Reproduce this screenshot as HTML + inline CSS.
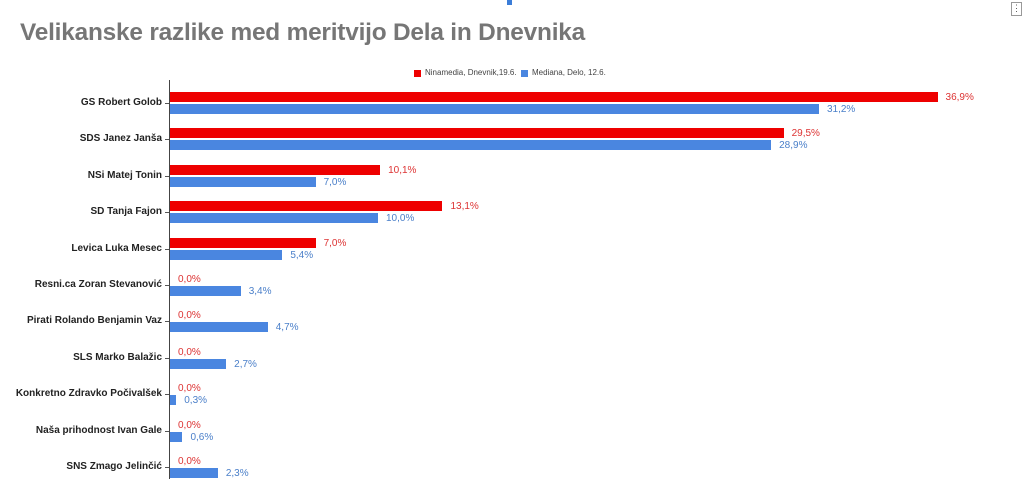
<!DOCTYPE html>
<html><head><meta charset="utf-8"><style>
body{margin:0;width:1024px;height:479px;background:#fff;position:relative;overflow:hidden;font-family:"Liberation Sans",Arial,sans-serif}
.a{position:absolute}
.t{left:20px;top:19px;font-size:24.4px;font-weight:bold;color:#767676;letter-spacing:-0.2px}
.lab{right:862px;font-size:10px;font-weight:bold;color:#222;white-space:nowrap;text-align:right}
.r{background:#ee0000;height:10px;left:170px}
.b{background:#4a86e0;height:10px;left:170px}
.vr{font-size:10px;color:#d33}
.vb{font-size:10px;color:#4a7fc9}
.tick{left:165px;width:4px;height:1px;background:#555}
</style></head><body>
<div class="a" style="left:507px;top:0;width:5px;height:5px;background:#3b7dd8"></div>
<div class="a" style="left:1011px;top:2px;width:9px;height:12px;border:1px solid #999;font-size:9px;line-height:11px;text-align:center;color:#555">⋮</div>
<div class="a t">Velikanske razlike med meritvijo Dela in Dnevnika</div>
<div class="a" style="left:414px;top:70px;width:7px;height:7px;background:#e00"></div>
<div class="a" style="left:425px;top:68px;font-size:8px;color:#444">Ninamedia, Dnevnik,19.6.</div>
<div class="a" style="left:521px;top:70px;width:7px;height:7px;background:#4a86e0"></div>
<div class="a" style="left:532px;top:68px;font-size:8px;color:#444">Mediana, Delo, 12.6.</div>
<div class="a" style="left:169px;top:80px;width:1px;height:399px;background:#444"></div>
<div id="c"></div>
<script>
var d=[["GS Robert Golob",36.9,31.2],["SDS Janez Janša",29.5,28.9],["NSi Matej Tonin",10.1,7.0],["SD Tanja Fajon",13.1,10.0],["Levica Luka Mesec",7.0,5.4],["Resni.ca Zoran Stevanović",0,3.4],["Pirati Rolando Benjamin Vaz",0,4.7],["SLS Marko Balažic",0,2.7],["Konkretno Zdravko Počivalšek",0,0.3],["Naša prihodnost Ivan Gale",0,0.6],["SNS Zmago Jelinčić",0,2.3]];
var h="",k=20.8;
d.forEach(function(e,i){var y=103+i*36.4;
function f(v){return v.toFixed(1).replace(".",",")+"%";}
h+='<div class="a lab" style="top:'+(y-6)+'px">'+e[0]+'</div>';
h+='<div class="a tick" style="top:'+y+'px"></div>';
var wr=e[1]*k,wb=e[2]*k;
if(wr>0)h+='<div class="a r" style="top:'+(y-11)+'px;width:'+wr+'px"></div>';
h+='<div class="a vr" style="top:'+(y-11)+'px;left:'+(170+wr+8)+'px">'+f(e[1])+'</div>';
h+='<div class="a b" style="top:'+(y+1)+'px;width:'+wb+'px"></div>';
h+='<div class="a vb" style="top:'+(y+1)+'px;left:'+(170+wb+8)+'px">'+f(e[2])+'</div>';
});
document.getElementById("c").innerHTML=h;
</script>
</body></html>
